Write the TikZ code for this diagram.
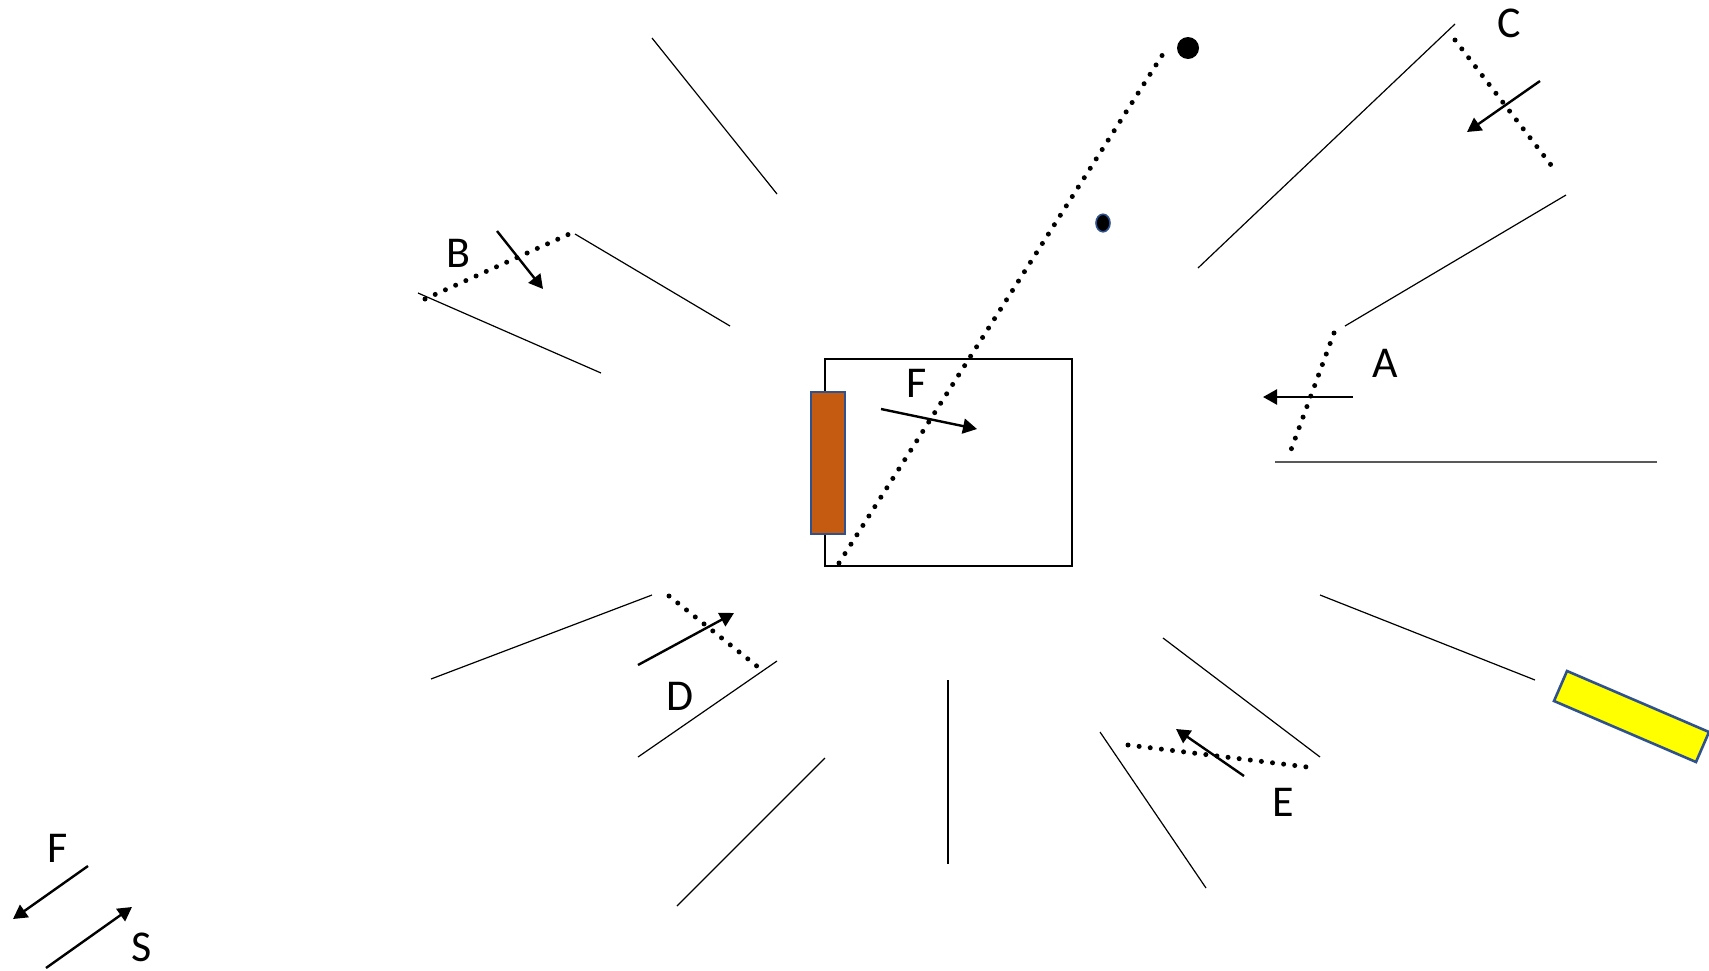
\documentclass[tikz,border=0pt]{standalone}
\usepackage{fontspec}
\setmainfont{Carlito}
\usetikzlibrary{arrows.meta}
\definecolor{blockorange}{HTML}{C55A11}
\definecolor{edgeblue}{HTML}{2F528F}
\definecolor{lampyellow}{HTML}{FFFF00}
\definecolor{floorgray}{HTML}{595959}
\tikzset{
  thinline/.style={line width=0.6pt, black},
  dotline/.style={line width=2.5pt, line cap=round, dash pattern=on 0pt off 5.6pt},
  force/.style={line width=1.2pt, -{Triangle[length=7pt,width=7.5pt]}},
  lbl/.style={font=\fontsize{22}{26}\selectfont, inner sep=0pt}
}
\begin{document}
\begin{tikzpicture}[x=0.5pt,y=-0.5pt]
\useasboundingbox (0,0) rectangle (1709,970);
% radial thin lines
\draw[thinline] (652,38) -- (777,194);
\draw[thinline] (1455,24) -- (1198,268);
\draw[thinline] (1566,195) -- (1345,326);
\draw[line width=0.8pt, floorgray] (1275,462) -- (1657,462);
\draw[thinline] (575,234) -- (730,326);
\draw[thinline] (418,293) -- (601,373);
\draw[thinline] (652,595) -- (431,679);
\draw[thinline] (777,661) -- (638,757);
\draw[thinline] (825,758) -- (677,906);
\draw[thinline] (948,680) -- (948,864);
\draw[thinline] (1100,732) -- (1206,888);
\draw[thinline] (1163,638) -- (1320,757);
\draw[thinline] (1320,595) -- (1535,680);
% central box
\draw[line width=1.3pt] (825,359) rectangle (1072,566);
\draw[edgeblue, line width=1pt, fill=blockorange] (811,392) rectangle (845,534);
% long dotted ray and dots
\coordinate (rayS) at (839,563);
\coordinate (rayE) at (1163,54);
\draw[dotline, dash pattern=on 0pt off 5.57pt] (rayS) -- (rayE);
\fill (1188,48) circle (11);
\draw[edgeblue, line width=0.8pt, fill=black] (1103,223) ellipse (7 and 8.8);
% yellow lamp
\draw[edgeblue, line width=1.3pt, fill=lampyellow] (1567,671) -- (1709,732) -- (1696,762) -- (1554,701) -- cycle;
% A
\coordinate (a1) at (1334,333); \coordinate (a2) at (1288,458);
\draw[dotline] (a1) -- (a2);
\coordinate (fa1) at (1353,397); \coordinate (fa2) at (1263,397);
\draw[force] (fa1) -- (fa2);
\node[lbl] (labA) at (1385,363) {A};
% B
\coordinate (b1) at (425,299); \coordinate (b2) at (576,231);
\draw[dotline] (b1) -- (b2);
\coordinate (fb1) at (497,231); \coordinate (fb2) at (543,289);
\draw[force] (fb1) -- (fb2);
\node[lbl] (labB) at (458,253) {B};
% C
\coordinate (c1) at (1455,40); \coordinate (c2) at (1551,165);
\draw[dotline] (c1) -- (c2);
\coordinate (fc1) at (1540,81); \coordinate (fc2) at (1467,132);
\draw[force] (fc1) -- (fc2);
\node[lbl] (labC) at (1509,23) {C};
% D
\coordinate (d1) at (669,596); \coordinate (d2) at (758,667);
\draw[dotline] (d1) -- (d2);
\coordinate (fd1) at (638,665); \coordinate (fd2) at (734,613);
\draw[force] (fd1) -- (fd2);
\node[lbl] (labD) at (680,696) {D};
% E
\coordinate (e1) at (1128,745); \coordinate (e2) at (1307,767);
\draw[dotline] (e1) -- (e2);
\coordinate (fe1) at (1244,776); \coordinate (fe2) at (1176,729);
\draw[force] (fe1) -- (fe2);
\node[lbl] (labE) at (1283,802) {E};
% F in box
\coordinate (ff1) at (881,409); \coordinate (ff2) at (977,429);
\draw[force] (ff1) -- (ff2);
\node[lbl] (labF) at (917,383) {F};
% legend
\coordinate (lf1) at (88,866); \coordinate (lf2) at (13,919);
\draw[force] (lf1) -- (lf2);
\node[lbl] (legF) at (58,848) {F};
\coordinate (ls1) at (46,968); \coordinate (ls2) at (132,907);
\draw[force] (ls1) -- (ls2);
\node[lbl] (legS) at (142,947) {S};
\end{tikzpicture}
\end{document}
